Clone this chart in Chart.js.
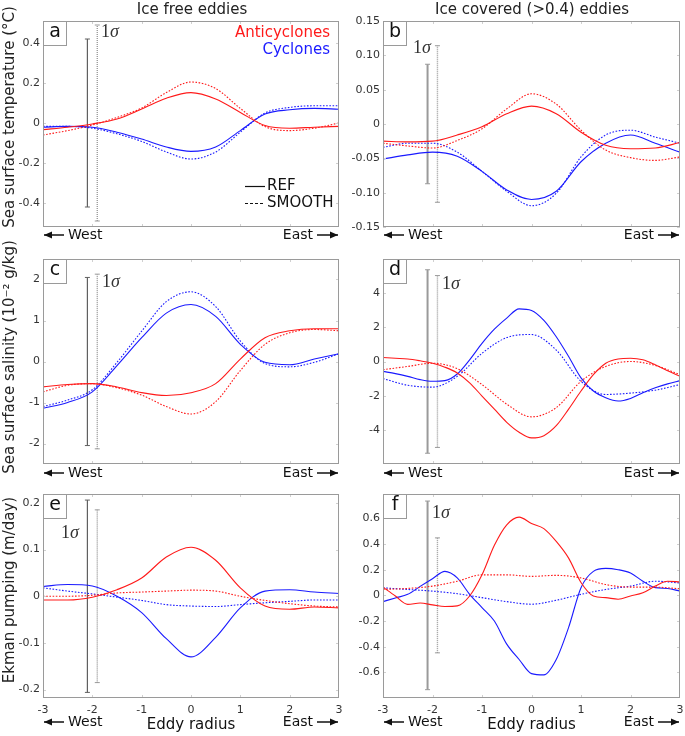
<!DOCTYPE html>
<html>
<head>
<meta charset="utf-8">
<script src="https://cdn.jsdelivr.net/npm/chart.js@4.4.0/dist/chart.umd.min.js"></script>
<style>
  body { margin: 0; background: #fff; font-family: "DejaVu Sans", sans-serif; color: #222; }
  #wrap { position: relative; width: 685px; height: 736px; overflow: hidden; }
  canvas { position: absolute; }
  .c { position: absolute; transform: translate(-50%, -50%); white-space: nowrap; font-size: 15px; }
  .yl { position: absolute; transform: translate(-50%, -50%) rotate(-90deg); white-space: nowrap; font-size: 15px; }
</style>
</head>
<body>
<div id="wrap"></div>
<script>
// x positions (eddy radius)
const xHalf = [-3, -2.5, -2, -1.5, -1, -0.5, 0, 0.5, 1, 1.5, 2, 2.5, 3];
const xQuarter = [-3, -2.75, -2.5, -2.25, -2, -1.75, -1.5, -1.25, -1, -0.75, -0.5, -0.25, 0,
                  0.25, 0.5, 0.75, 1, 1.25, 1.5, 1.75, 2, 2.25, 2.5, 2.75, 3];
const xTicks = [-3, -2, -1, 0, 1, 2, 3];
const xLabels = ['-3', '-2', '-1', '0', '1', '2', '3'];
const sigmaX = [-2.1, -1.9];   // REF bar, SMOOTH bar

// a: SST, ice free
const sstFreeAntiRef = [-0.033, -0.021, -0.005, 0.02, 0.07, 0.124, 0.152, 0.12, 0.053, -0.013, -0.026, -0.021, -0.017];
const sstFreeAntiSmooth = [-0.06, -0.038, -0.01, 0.028, 0.075, 0.152, 0.205, 0.172, 0.073, -0.018, -0.038, -0.026, 0.0];
const sstFreeCycRef = [-0.021, -0.017, -0.021, -0.046, -0.08, -0.12, -0.142, -0.12, -0.038, 0.045, 0.066, 0.073, 0.069];
const sstFreeCycSmooth = [-0.017, -0.017, -0.026, -0.054, -0.092, -0.145, -0.18, -0.145, -0.046, 0.05, 0.078, 0.086, 0.086];
const sstFreeSigma = [0.42, 0.49];
const sstFreeTicks = [0.4, 0.2, 0, -0.2, -0.4];
const sstFreeLabels = ['0.4', '0.2', '0', '-0.2', '-0.4'];

// b: SST, ice covered
const sstIceAntiRef = [-0.025, -0.026, -0.025, -0.016, -0.004, 0.015, 0.026, 0.015, -0.012, -0.031, -0.036, -0.035, -0.027];
const sstIceAntiSmooth = [-0.028, -0.032, -0.035, -0.024, -0.007, 0.022, 0.044, 0.029, -0.009, -0.038, -0.049, -0.053, -0.048];
const sstIceCycRef = [-0.051, -0.045, -0.041, -0.047, -0.069, -0.096, -0.11, -0.098, -0.055, -0.028, -0.016, -0.028, -0.041];
const sstIceCycSmooth = [-0.034, -0.028, -0.028, -0.041, -0.069, -0.098, -0.119, -0.101, -0.048, -0.016, -0.009, -0.019, -0.028];
const sstIceSigma = [0.087, 0.114];
const sstIceTicks = [0.15, 0.1, 0.05, 0, -0.05, -0.1, -0.15];
const sstIceLabels = ['0.15', '0.10', '0.05', '0', '-0.05', '-0.10', '-0.15'];

// c: SSS, ice free
const sssFreeAntiRef = [-0.62, -0.56, -0.54, -0.62, -0.76, -0.83, -0.76, -0.54, 0.06, 0.58, 0.75, 0.8, 0.8];
const sssFreeAntiSmooth = [-0.74, -0.58, -0.54, -0.64, -0.82, -1.1, -1.28, -0.98, -0.22, 0.42, 0.7, 0.78, 0.75];
const sssFreeCycRef = [-1.14, -1.0, -0.74, -0.1, 0.58, 1.18, 1.39, 1.1, 0.42, -0.02, -0.08, 0.06, 0.19];
const sssFreeCycSmooth = [-1.1, -0.94, -0.69, -0.02, 0.74, 1.46, 1.7, 1.34, 0.5, -0.05, -0.13, -0.02, 0.19];
const sssFreeSigma = [2.05, 2.13];
const sssFreeTicks = [2, 1, 0, -1, -2];
const sssFreeLabels = ['2', '1', '0', '-1', '-2'];

// d: SSS, ice covered (REF on a finer grid)
const sssIceAntiRef = [0.23, 0.19, 0.15, 0.04, -0.1, -0.33, -0.67, -1.25, -2.02, -2.79, -3.56, -4.14, -4.47,
                       -4.34, -3.76, -2.79, -1.73, -0.77, -0.1, 0.15, 0.19, 0.1, -0.19, -0.54, -0.87];
const sssIceAntiSmooth = [-0.48, -0.29, -0.1, -0.42, -1.35, -2.5, -3.24, -2.7, -1.16, -0.29, 0.0, -0.23, -0.77];
const sssIceCycRef = [-0.58, -0.71, -0.87, -1.06, -1.16, -1.12, -0.73, 0.1, 1.06, 1.89, 2.54, 3.08, 2.99,
                      2.41, 1.45, 0.29, -0.96, -1.73, -2.12, -2.31, -2.16, -1.83, -1.54, -1.31, -1.12];
const sssIceCycSmooth = [-1.0, -1.39, -1.5, -0.87, 0.48, 1.4, 1.58, 0.67, -1.16, -1.93, -1.85, -1.68, -1.35];
const sssIceSigma = [5.37, 5.03];
const sssIceTicks = [4, 2, 0, -2, -4];
const sssIceLabels = ['4', '2', '0', '-2', '-4'];

// e: Ekman pumping, ice free
const ekFreeAntiRef = [-0.008, -0.008, -0.002, 0.014, 0.039, 0.084, 0.105, 0.077, 0.018, -0.021, -0.028, -0.023, -0.025];
const ekFreeAntiSmooth = [0.0, 0.0, 0.002, 0.007, 0.009, 0.011, 0.013, 0.011, 0.0, -0.009, -0.016, -0.021, -0.023];
const ekFreeCycRef = [0.021, 0.025, 0.022, 0.0, -0.035, -0.091, -0.13, -0.088, -0.025, 0.011, 0.014, 0.009, 0.006];
const ekFreeCycSmooth = [0.018, 0.011, 0.005, -0.002, -0.009, -0.018, -0.021, -0.022, -0.018, -0.014, -0.011, -0.008, -0.008];
const ekFreeSigma = [0.206, 0.185];
const ekFreeTicks = [0.2, 0.1, 0, -0.1, -0.2];
const ekFreeLabels = ['0.2', '0.1', '0', '-0.1', '-0.2'];

// f: Ekman pumping, ice covered (REF on a finer grid)
const ekIceAntiRef = [0.064, -0.005, -0.07, -0.06, -0.074, -0.087, -0.082, -0.005, 0.16, 0.39, 0.55, 0.61, 0.56,
                      0.52, 0.42, 0.29, 0.1, -0.005, -0.018, -0.03, -0.005, 0.02, 0.072, 0.11, 0.105];
const ekIceAntiSmooth = [0.046, 0.054, 0.072, 0.11, 0.16, 0.16, 0.148, 0.156, 0.136, 0.084, 0.064, 0.064, 0.051];
const ekIceCycRef = [-0.049, -0.02, 0.008, 0.07, 0.13, 0.187, 0.136, 0.008, -0.095, -0.2, -0.38, -0.5, -0.61,
                     -0.62, -0.5, -0.25, 0.06, 0.187, 0.21, 0.2, 0.174, 0.11, 0.06, 0.054, 0.033];
const ekIceCycSmooth = [0.059, 0.046, 0.033, 0.013, -0.018, -0.049, -0.069, -0.038, 0.008, 0.046, 0.072, 0.11, 0.097];
const ekIceSigma = [0.735, 0.448];
const ekIceTicks = [0.6, 0.4, 0.2, 0, -0.2, -0.4, -0.6];
const ekIceLabels = ['0.6', '0.4', '0.2', '0', '-0.2', '-0.4', '-0.6'];

const RED = '#ff1a1a', BLUE = '#1a1aff';

// panel layout: plot rectangle in page pixels
const panels = [
  { letter: 'a', L: 43, T: 18, W: 297, H: 209, min: -0.52, max: 0.51, ticks: sstFreeTicks, labels: sstFreeLabels,
    series: [[xHalf, sstFreeAntiRef], [xHalf, sstFreeAntiSmooth], [xHalf, sstFreeCycRef], [xHalf, sstFreeCycSmooth]],
    sigma: sstFreeSigma, sigPos: [101, 32], ice: false, row: 0, legend: true },
  { letter: 'b', L: 383, T: 18, W: 298, H: 209, min: -0.15, max: 0.15, ticks: sstIceTicks, labels: sstIceLabels,
    series: [[xHalf, sstIceAntiRef], [xHalf, sstIceAntiSmooth], [xHalf, sstIceCycRef], [xHalf, sstIceCycSmooth]],
    sigma: sstIceSigma, sigPos: [413, 48], ice: true, row: 0 },
  { letter: 'c', L: 43, T: 256, W: 297, H: 208, min: -2.5, max: 2.5, ticks: sssFreeTicks, labels: sssFreeLabels,
    series: [[xHalf, sssFreeAntiRef], [xHalf, sssFreeAntiSmooth], [xHalf, sssFreeCycRef], [xHalf, sssFreeCycSmooth]],
    sigma: sssFreeSigma, sigPos: [102, 282], ice: false, row: 1 },
  { letter: 'd', L: 383, T: 256, W: 298, H: 208, min: -6, max: 6, ticks: sssIceTicks, labels: sssIceLabels,
    series: [[xQuarter, sssIceAntiRef], [xHalf, sssIceAntiSmooth], [xQuarter, sssIceCycRef], [xHalf, sssIceCycSmooth]],
    sigma: sssIceSigma, sigPos: [442, 284], ice: true, row: 1 },
  { letter: 'e', L: 43, T: 491, W: 297, H: 207, min: -0.218, max: 0.219, ticks: ekFreeTicks, labels: ekFreeLabels,
    series: [[xHalf, ekFreeAntiRef], [xHalf, ekFreeAntiSmooth], [xHalf, ekFreeCycRef], [xHalf, ekFreeCycSmooth]],
    sigma: ekFreeSigma, sigPos: [61, 533], ice: false, row: 2 },
  { letter: 'f', L: 383, T: 491, W: 298, H: 207, min: -0.8, max: 0.79, ticks: ekIceTicks, labels: ekIceLabels,
    series: [[xQuarter, ekIceAntiRef], [xHalf, ekIceAntiSmooth], [xQuarter, ekIceCycRef], [xHalf, ekIceCycSmooth]],
    sigma: ekIceSigma, sigPos: [432, 513], ice: true, row: 2 }
];
const arrowRowY = [235, 473, 722];

function arrow(ctx, x1, x2, y) {
  ctx.beginPath(); ctx.moveTo(x1, y); ctx.lineTo(x2, y); ctx.stroke();
  const d = Math.sign(x2 - x1);
  ctx.beginPath();
  ctx.moveTo(x2, y); ctx.lineTo(x2 - d * 8, y - 3.5); ctx.lineTo(x2 - d * 8, y + 3.5);
  ctx.closePath(); ctx.fill();
}

function makePanel(p) {
  const bottom = p.row === 2;
  const cx = p.L - 42, cy = p.T - 2;
  const ch = bottom ? 736 - cy : (p.row === 0 ? 246 - cy : 482 - cy);
  const padB = ch - 2 - p.H;
  const cw = p.W + 46;

  const cv = document.createElement('canvas');
  cv.width = cw; cv.height = ch;
  cv.style.left = cx + 'px'; cv.style.top = cy + 'px';
  document.getElementById('wrap').appendChild(cv);

  const colors = [RED, RED, BLUE, BLUE];
  const lines = p.series.map(([xs, ys], i) => ({
    data: xs.map((x, k) => ({ x: x, y: ys[k] })),
    borderColor: colors[i],
    borderWidth: 1.1,
    borderDash: i % 2 ? [1.6, 1.6] : [],
    pointRadius: 0,
    cubicInterpolationMode: 'monotone',
    fill: false
  }));
  const solidCol = p.ice ? '#9a9a9a' : '#606060';
  const bars = [
    { x: sigmaX[0], s: p.sigma[0], color: solidCol, w: p.ice ? 2 : 1.2, dash: [] },
    { x: sigmaX[1], s: p.sigma[1], color: '#9a9a9a', w: 1.4, dash: [1, 1] }
  ].map(b => ({
    data: [{ x: b.x, y: -b.s }, { x: b.x, y: b.s }],
    borderColor: b.color, borderWidth: b.w, borderDash: b.dash,
    pointStyle: 'line', pointRadius: 2.5, pointBorderColor: b.color, pointBorderWidth: 1,
    tension: 0
  }));

  const deco = {
    id: 'deco',
    afterDatasetsDraw(chart) {
      const { ctx, chartArea: a, scales: { x, y } } = chart;
      ctx.save();
      // small inside ticks
      ctx.strokeStyle = '#d0d0d0'; ctx.lineWidth = 1;
      ctx.beginPath();
      xTicks.slice(1, -1).forEach(v => {
        const px = Math.round(x.getPixelForValue(v)) + 0.5;
        ctx.moveTo(px, a.bottom); ctx.lineTo(px, a.bottom - 3);
        ctx.moveTo(px, a.top); ctx.lineTo(px, a.top + 3);
      });
      p.ticks.forEach(v => {
        const py = Math.round(y.getPixelForValue(v)) + 0.5;
        ctx.moveTo(a.left, py); ctx.lineTo(a.left + 3, py);
        ctx.moveTo(a.right, py); ctx.lineTo(a.right - 3, py);
      });
      ctx.stroke();
      // plot box
      ctx.strokeStyle = '#9a9a9a';
      ctx.strokeRect(a.left + 0.5, a.top + 0.5, a.width - 1, a.height - 1);
      // tick labels
      ctx.fillStyle = '#333';
      ctx.font = '11px "DejaVu Sans"';
      ctx.textBaseline = 'middle';
      ctx.textAlign = 'right';
      p.ticks.forEach((v, i) => ctx.fillText(p.labels[i], a.left - 3, y.getPixelForValue(v)));
      if (bottom) {
        ctx.textAlign = 'center';
        xTicks.forEach((v, i) => ctx.fillText(xLabels[i], x.getPixelForValue(v), a.bottom + 12));
      }
      // panel letter
      ctx.fillStyle = '#fff';
      ctx.fillRect(a.left + 0.5, a.top + 0.5, 23, 24);
      ctx.strokeRect(a.left + 0.5, a.top + 0.5, 23, 24);
      ctx.fillStyle = '#111';
      ctx.font = '19px "DejaVu Sans"';
      ctx.textAlign = 'center';
      ctx.fillText(p.letter, a.left + 12, a.top + 11);
      // 1 sigma label
      const sx = p.sigPos[0] - cx, sy = p.sigPos[1] - cy;
      ctx.fillStyle = '#333';
      ctx.textAlign = 'left';
      ctx.font = '18px "Liberation Serif"';
      ctx.fillText('1', sx, sy);
      const w1 = ctx.measureText('1').width;
      ctx.font = 'italic 18px "Liberation Serif"';
      ctx.fillText('σ', sx + w1, sy);
      // legend
      if (p.legend) {
        ctx.font = '15px "DejaVu Sans"';
        ctx.textAlign = 'right';
        ctx.fillStyle = RED; ctx.fillText('Anticyclones', 330 - cx, 33 - cy);
        ctx.fillStyle = BLUE; ctx.fillText('Cyclones', 330 - cx, 50 - cy);
        ctx.strokeStyle = '#111'; ctx.fillStyle = '#111'; ctx.lineWidth = 1.2;
        ctx.beginPath(); ctx.moveTo(245 - cx, 186.5 - cy); ctx.lineTo(265 - cx, 186.5 - cy); ctx.stroke();
        ctx.setLineDash([3, 2]);
        ctx.beginPath(); ctx.moveTo(245 - cx, 203.5 - cy); ctx.lineTo(265 - cx, 203.5 - cy); ctx.stroke();
        ctx.setLineDash([]);
        ctx.textAlign = 'left';
        ctx.fillText('REF', 267 - cx, 186 - cy);
        ctx.fillText('SMOOTH', 267 - cx, 203 - cy);
      }
      // West / East arrows
      const ay = arrowRowY[p.row] - cy;
      ctx.strokeStyle = '#111'; ctx.fillStyle = '#111'; ctx.lineWidth = 1.5;
      arrow(ctx, a.left + 21, a.left + 1, ay);
      arrow(ctx, a.right - 22, a.right - 1, ay);
      ctx.font = '14px "DejaVu Sans"';
      ctx.textAlign = 'left';
      ctx.fillText('West', a.left + 25, ay);
      ctx.textAlign = 'right';
      ctx.fillText('East', a.right - 26, ay);
      if (bottom) {
        ctx.font = '15px "DejaVu Sans"';
        ctx.textAlign = 'center';
        ctx.fillText('Eddy radius', (a.left + a.right) / 2, 725 - cy);
      }
      ctx.restore();
    }
  };

  new Chart(cv.getContext('2d'), {
    type: 'line',
    data: { datasets: lines.concat(bars) },
    options: {
      responsive: false,
      animation: false,
      events: [],
      layout: { padding: { left: 0, top: 2, right: 4, bottom: padB } },
      plugins: { legend: { display: false }, tooltip: { enabled: false } },
      scales: {
        x: {
          type: 'linear', min: -3, max: 3,
          grid: { display: false }, border: { display: false },
          ticks: { display: false },
          afterFit: s => { s.height = 0; s.paddingLeft = 0; s.paddingRight = 0; }
        },
        y: {
          type: 'linear', min: p.min, max: p.max,
          grid: { display: false }, border: { display: false },
          ticks: { display: false },
          afterFit: s => { s.width = 42; s.paddingTop = 0; s.paddingBottom = 0; }
        }
      }
    },
    plugins: [deco]
  });
}

panels.forEach(makePanel);

// titles and axis titles as page text (drawn above the canvases)
const wrap = document.getElementById('wrap');
[
  ['c', 192, 9, 'Ice free eddies'],
  ['c', 532, 9, 'Ice covered (>0.4) eddies'],
  ['yl', 9, 117, 'Sea surface temperature (°C)'],
  ['yl', 9, 357, 'Sea surface salinity (10⁻² g/kg)'],
  ['yl', 9, 590, 'Ekman pumping (m/day)']
].forEach(([cls, x, y, txt]) => {
  const d = document.createElement('div');
  d.className = cls;
  d.style.left = x + 'px'; d.style.top = y + 'px';
  d.textContent = txt;
  wrap.appendChild(d);
});
</script>
</body>
</html>
